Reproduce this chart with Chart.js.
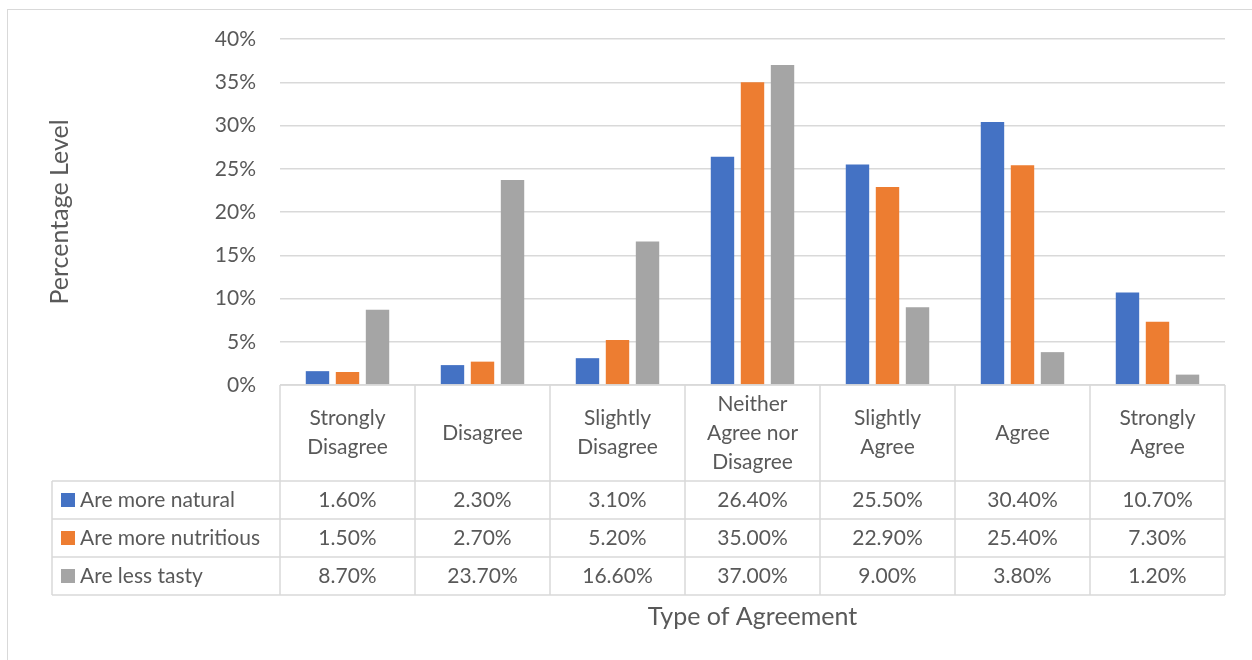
<!DOCTYPE html>
<html>
<head>
<meta charset="utf-8">
<script src="https://cdn.jsdelivr.net/npm/chart.js@4"></script>
<style>
  html, body { margin: 0; padding: 0; background: #fff; overflow: hidden; }
  .frame { position: absolute; left: 7px; top: 9px; width: 1300px; height: 700px; border: 1px solid #d9d9d9; }
  #c { position: absolute; left: 0; top: 0; }
</style>
</head>
<body>
<div class="frame"></div>
<canvas id="c" width="1252" height="660"></canvas>
<script>
const categories = [
  ["Strongly", "Disagree"],
  ["Disagree"],
  ["Slightly", "Disagree"],
  ["Neither", "Agree nor", "Disagree"],
  ["Slightly", "Agree"],
  ["Agree"],
  ["Strongly", "Agree"]
];
const seriesNames = ["Are more natural", "Are more nutritious", "Are less tasty"];
const moreNatural = [1.6, 2.3, 3.1, 26.4, 25.5, 30.4, 10.7];
const moreNutritious = [1.5, 2.7, 5.2, 35.0, 22.9, 25.4, 7.3];
const lessTasty = [8.7, 23.7, 16.6, 37.0, 9.0, 3.8, 1.2];
const colors = ["#4472C4", "#ED7D31", "#A5A5A5"];
const yTitle = "Percentage Level";
const xTitle = "Type of Agreement";

const FONT = "Lato, 'Noto Sans', sans-serif";
const TXT = "#595959";
const LINE = "#d9d9d9";

// data table under the plot, drawn from the same arrays
const tablePlugin = {
  id: "dataTable",
  afterDraw(chart) {
    const ctx = chart.ctx;
    const area = chart.chartArea;
    const x = chart.scales.x;
    const n = categories.length;
    const colW = (area.right - area.left) / n;
    const top = area.bottom;
    const headH = 96, rowH = 38;
    const tableLeft = 52;
    const rowsTop = top + headH;
    const bottom = rowsTop + rowH * seriesNames.length;

    ctx.save();
    ctx.strokeStyle = LINE;
    ctx.lineWidth = 1.5;
    ctx.beginPath();
    ctx.moveTo(area.left, top); ctx.lineTo(area.right, top);
    for (let i = 0; i <= n; i++) {
      const px = area.left + i * colW;
      ctx.moveTo(px, top); ctx.lineTo(px, bottom);
    }
    for (let r = 0; r <= seriesNames.length; r++) {
      const py = rowsTop + r * rowH;
      ctx.moveTo(tableLeft, py); ctx.lineTo(area.right, py);
    }
    ctx.moveTo(tableLeft, rowsTop); ctx.lineTo(tableLeft, bottom);
    ctx.stroke();

    ctx.fillStyle = TXT;
    ctx.font = "21px " + FONT;
    ctx.textAlign = "center";
    ctx.textBaseline = "middle";
    const lh = 29;
    categories.forEach((lines, i) => {
      const cx = x.getPixelForValue(i);
      const cy = top + headH / 2;
      lines.forEach((t, k) => {
        ctx.fillText(t, cx, cy + (k - (lines.length - 1) / 2) * lh);
      });
    });

    chart.data.datasets.forEach((ds, r) => {
      const cy = rowsTop + r * rowH + rowH / 2;
      ds.data.forEach((v, i) => {
        ctx.textAlign = "center";
        ctx.fillStyle = TXT;
        ctx.fillText(v.toFixed(2) + "%", x.getPixelForValue(i), cy);
      });
      ctx.fillStyle = ds.backgroundColor;
      ctx.fillRect(61, cy - 7, 14, 14);
      ctx.fillStyle = TXT;
      ctx.textAlign = "left";
      ctx.fillText(ds.label, 80, cy);
    });

    ctx.textAlign = "center";
    ctx.font = "25px " + FONT;
    ctx.fillText(xTitle, (area.left + area.right) / 2, 617);
    ctx.restore();
  }
};

new Chart(document.getElementById("c"), {
  type: "bar",
  data: {
    labels: categories,
    datasets: [
      { label: seriesNames[0], data: moreNatural, backgroundColor: colors[0] },
      { label: seriesNames[1], data: moreNutritious, backgroundColor: colors[1] },
      { label: seriesNames[2], data: lessTasty, backgroundColor: colors[2] }
    ]
  },
  options: {
    responsive: false,
    animation: false,
    devicePixelRatio: 1,
    layout: { padding: { left: 45, right: 27, top: 39, bottom: 275 } },
    datasets: { bar: { categoryPercentage: 0.667, barPercentage: 0.78 } },
    plugins: { legend: { display: false }, tooltip: { enabled: false } },
    scales: {
      x: { display: false },
      y: {
        min: 0, max: 40,
        afterFit(s) { s.width = 235; },
        border: { display: false },
        grid: { color: LINE, lineWidth: 1.5, drawTicks: false },
        ticks: {
          stepSize: 5, padding: 24, color: TXT,
          font: { family: FONT, size: 21 },
          callback: v => v + "%"
        },
        title: {
          display: true, text: yTitle, color: TXT,
          font: { family: FONT, size: 25 }, padding: 0
        }
      }
    }
  },
  plugins: [tablePlugin]
});
</script>
</body>
</html>
